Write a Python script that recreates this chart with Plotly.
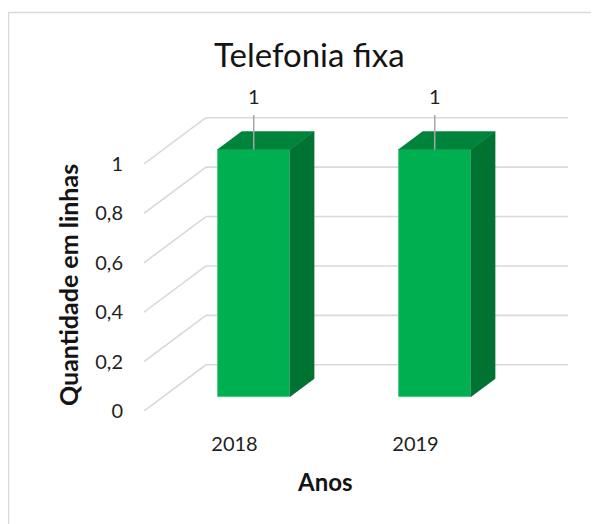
import plotly.graph_objects as go

# ---- data ----
years = ["2018", "2019"]
values = [1, 1]
y_tick_values = [0, 0.2, 0.4, 0.6, 0.8, 1]
y_tick_text = ["0", "0,2", "0,4", "0,6", "0,8", "1"]
data_labels = ["1", "1"]
title_text = "Telefonia fixa"
x_title = "Anos"
y_title = "Quantidade em linhas"

# ---- pseudo-3D projection constants (data units) ----
DEPTH_X = -0.3425   # horizontal shift from back wall to front edge
DEPTH_Y = -0.1872   # vertical shift from back wall to front edge
FRONT = 0.69        # depth fraction of bar front face
BACK = 0.30         # depth fraction of bar back face
HALF_W = 0.2        # half bar width
FONT = "Lato"
GRID = "#d9d9d9"
TXT = "#1f1f1f"

# page body margin offset (pixels)
OFF = 8
W, H = 591, 516
PL, PR, PT, PB = 144 - OFF, 568 - OFF, 93 - OFF, 411 - OFF  # plot area in figure px


def px(xp):
    return (xp - OFF - PL) / (PR - PL)


def py(yp):
    return (PB - (yp - OFF)) / (PB - PT)


cats = list(range(len(years)))
dxf, dyf = DEPTH_X * FRONT, DEPTH_Y * FRONT
dxb, dyb = DEPTH_X * BACK, DEPTH_Y * BACK

fig = go.Figure()

shapes = []
# gridlines: back wall + side diagonals (below everything)
for v in y_tick_values:
    shapes.append(dict(type="line", xref="x", yref="y", x0=-0.5, x1=1.5, y0=v, y1=v,
                       line=dict(color=GRID, width=1.6), layer="below"))
    shapes.append(dict(type="line", xref="x", yref="y", x0=-0.5, x1=-0.5 + DEPTH_X,
                       y0=v, y1=v + DEPTH_Y, line=dict(color=GRID, width=1.6), layer="below"))

# chart border
shapes.append(dict(type="rect", xref="paper", yref="paper",
                   x0=px(8.5), x1=px(640), y0=py(560), y1=py(12.5),
                   line=dict(color=GRID, width=1.5), fillcolor="rgba(0,0,0,0)", layer="below"))

# side and top faces
for c, v in zip(cats, values):
    xr_f, xr_b = c + HALF_W + dxf, c + HALF_W + dxb
    xl_f, xl_b = c - HALF_W + dxf, c - HALF_W + dxb
    fig.add_trace(go.Scatter(
        x=[xr_f, xr_b, xr_b, xr_f, xr_f],
        y=[dyf, dyb, v + dyb, v + dyf, dyf],
        mode="lines", fill="toself", fillcolor="#007232",
        line=dict(color="#007232", width=0.5), hoverinfo="skip", showlegend=False))
    fig.add_trace(go.Scatter(
        x=[xl_f, xr_f, xr_b, xl_b, xl_f],
        y=[v + dyf, v + dyf, v + dyb, v + dyb, v + dyf],
        mode="lines", fill="toself", fillcolor="#00843C",
        line=dict(color="#00843C", width=0.5), hoverinfo="skip", showlegend=False))

# front faces
fig.add_trace(go.Bar(
    x=[c + dxf for c in cats], y=values, base=[dyf] * len(values), width=2 * HALF_W,
    marker=dict(color="#00B050", line=dict(color="#3cc47a", width=0.8)),
    hoverinfo="skip", showlegend=False))

# leader lines and data labels
LABEL_OFF = 0.205
LEADER_OFF = 0.14
lx, ly = [], []
for c, v in zip(cats, values):
    lx += [c + dxf, c + dxf, None]
    ly += [v + dyf, v + dyf + LEADER_OFF, None]
fig.add_trace(go.Scatter(x=lx, y=ly, mode="lines", line=dict(color="#a6a6a6", width=1.5),
                         hoverinfo="skip", showlegend=False, cliponaxis=False))
fig.add_trace(go.Scatter(
    x=[c + dxf for c in cats], y=[v + dyf + LABEL_OFF for v in values],
    mode="text", text=data_labels, textposition="middle center",
    textfont=dict(family=FONT, size=20, color=TXT),
    hoverinfo="skip", showlegend=False, cliponaxis=False))

fig.update_layout(
    width=W, height=H, autosize=False,
    margin=dict(l=PL, r=W - PR, t=PT, b=H - PB, pad=0),
    paper_bgcolor="white", plot_bgcolor="rgba(0,0,0,0)",
    font=dict(family=FONT, color=TXT),
    bargap=0,
    xaxis=dict(range=[-0.5 + DEPTH_X, 1.5], showgrid=False, zeroline=False, showline=False,
               tickvals=[c + DEPTH_X for c in cats], ticktext=years, ticks="",
               ticklabelstandoff=19, tickfont=dict(family=FONT, size=20, color=TXT),
               fixedrange=True),
    yaxis=dict(range=[DEPTH_Y, 1.1], showgrid=False, zeroline=False, showline=False,
               tickvals=[v + DEPTH_Y for v in y_tick_values], ticktext=y_tick_text, ticks="",
               ticklabelstandoff=20, tickfont=dict(family=FONT, size=20, color=TXT),
               fixedrange=True),
    annotations=[
        dict(text=title_text, xref="paper", yref="paper", x=px(309), y=py(54),
             xanchor="center", yanchor="middle", showarrow=False,
             font=dict(family=FONT, size=33, color="#141414")),
        dict(text="<b>" + x_title + "</b>", xref="paper", yref="paper",
             x=px(325), y=py(481), xanchor="center", yanchor="middle",
             showarrow=False, font=dict(family=FONT, size=24, color="#141414")),
        dict(text="<b>" + y_title + "</b>", xref="paper", yref="paper", textangle=-90,
             x=px(68), y=py(285), xanchor="center", yanchor="middle",
             showarrow=False, font=dict(family=FONT, size=25, color="#141414")),
    ],
    shapes=shapes,
)

fig.write_html("out.html")
